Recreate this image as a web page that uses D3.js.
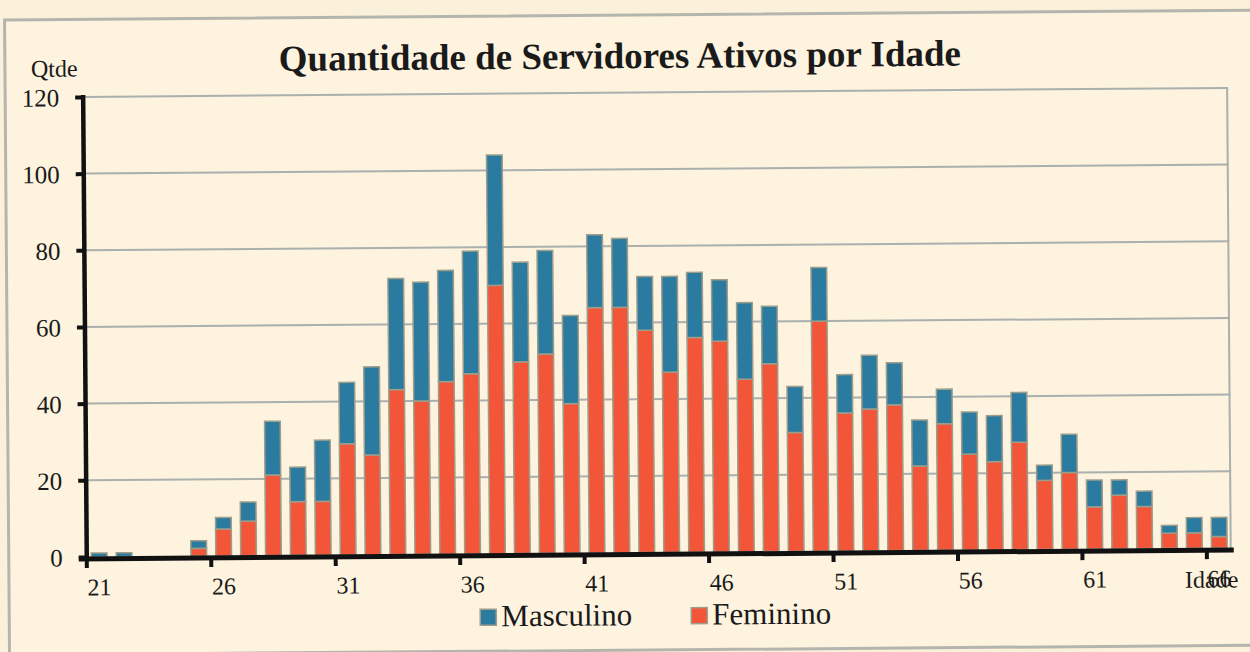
<!DOCTYPE html>
<html>
<head>
<meta charset="utf-8">
<script src="https://cdn.jsdelivr.net/npm/d3@7"></script>
<style>
  html, body { margin: 0; padding: 0; background: #fbf0da; }
  svg { display: block; }
  text { font-family: "Liberation Serif", "Times New Roman", serif; fill: #1a1a1a; }
</style>
</head>
<body>
<div id="chart"></div>
<script>
// idades 21..66
var ages = d3.range(21, 67);
var feminino = [0, 0, 0, 0, 2, 7, 9, 21, 14, 14, 29, 26, 43, 40, 45, 47, 70, 50, 52, 39, 64, 64, 58, 47, 56, 55, 45, 49, 31, 60, 36, 37, 38, 22, 33, 25, 23, 28, 18, 20, 11, 14, 11, 4, 4, 3];
var masculino = [1, 1, 0, 0, 2, 3, 5, 14, 9, 16, 16, 23, 29, 31, 29, 32, 34, 26, 27, 23, 19, 18, 14, 25, 17, 16, 20, 15, 12, 14, 10, 14, 11, 12, 9, 11, 12, 13, 4, 10, 7, 4, 4, 2, 4, 5];
var yTicks = [0, 20, 40, 60, 80, 100, 120];
var xLabels = [21, 26, 31, 36, 41, 46, 51, 56, 61, 66];

var width = 1250, height = 652;
var plotLeft = 85, plotRight = 1230, plotTop = 92.5, plotBottom = 552.5;
var colors = { feminino: "#f35539", masculino: "#2a7b9f" };

var svg = d3.select("#chart").append("svg")
    .attr("width", width)
    .attr("height", height);

svg.append("rect").attr("width", width).attr("height", height).attr("fill", "#fbf0da");

// scanned page is a bit tilted
var g = svg.append("g").attr("transform", "rotate(-0.45, 650, 330)");

// outer frame
g.append("rect")
    .attr("x", 7).attr("y", 15)
    .attr("width", 1270).attr("height", 635)
    .attr("fill", "#fdf3de")
    .attr("stroke", "#b4b5ad")
    .attr("stroke-width", 3);

var x = d3.scaleBand()
    .domain(ages)
    .range([plotLeft, plotRight])
    .paddingInner(0.37)
    .paddingOuter(0.185);

var y = d3.scaleLinear()
    .domain([0, 120])
    .range([plotBottom, plotTop]);

// grid
g.append("g").selectAll("line")
    .data(yTicks.slice(1))
    .join("line")
    .attr("x1", plotLeft).attr("x2", plotRight)
    .attr("y1", d => y(d)).attr("y2", d => y(d))
    .attr("stroke", "#a9b0ae")
    .attr("stroke-width", 2);

g.append("line")
    .attr("x1", plotRight - 1).attr("x2", plotRight - 1)
    .attr("y1", plotTop).attr("y2", plotBottom)
    .attr("stroke", "#a9b0ae")
    .attr("stroke-width", 2);

// stacked bars
var table = ages.map(function(a, i) {
    return { age: a, feminino: feminino[i], masculino: masculino[i] };
});
var series = d3.stack().keys(["feminino", "masculino"])(table);

g.append("g").selectAll("g")
    .data(series)
    .join("g")
    .attr("fill", d => colors[d.key])
    .selectAll("rect")
    .data(d => d.filter(s => s[1] > s[0]))
    .join("rect")
    .attr("x", d => x(d.data.age))
    .attr("width", x.bandwidth())
    .attr("y", d => y(d[1]))
    .attr("height", d => y(d[0]) - y(d[1]))
    .attr("stroke", "#9d9d8c")
    .attr("stroke-width", 1.5);

// y axis
var yAxis = g.append("g")
    .attr("transform", "translate(" + plotLeft + ",0)")
    .call(d3.axisLeft(y).tickValues(yTicks).tickSize(8).tickPadding(16));
yAxis.select(".domain").remove();
yAxis.selectAll(".tick line").attr("stroke", "#111").attr("stroke-width", 4);
yAxis.selectAll(".tick text")
    .attr("font-family", "Liberation Serif, serif")
    .attr("font-size", 25)
    .attr("fill", "#1a1a1a")
    .attr("dy", "0.35em");
g.append("line")
    .attr("x1", plotLeft).attr("x2", plotLeft)
    .attr("y1", plotTop - 2).attr("y2", plotBottom + 2)
    .attr("stroke", "#111").attr("stroke-width", 4.5);

// x axis
var half = (x.step() - x.bandwidth()) / 2;
g.append("line")
    .attr("x1", plotLeft - 8).attr("x2", plotRight + 2)
    .attr("y1", plotBottom + 2).attr("y2", plotBottom + 2)
    .attr("stroke", "#111").attr("stroke-width", 5);
g.append("g").selectAll("line")
    .data(xLabels)
    .join("line")
    .attr("x1", d => x(d) - half).attr("x2", d => x(d) - half)
    .attr("y1", plotBottom + 2).attr("y2", plotBottom + 11)
    .attr("stroke", "#111").attr("stroke-width", 4);
g.append("g").selectAll("text")
    .data(xLabels)
    .join("text")
    .attr("x", d => x(d) + x.bandwidth() / 2)
    .attr("y", 591)
    .attr("text-anchor", "middle")
    .attr("font-size", 24)
    .text(d => d);

// titles
g.append("text")
    .attr("x", 622).attr("y", 68)
    .attr("text-anchor", "middle")
    .attr("font-size", 37)
    .attr("font-weight", "bold")
    .text("Quantidade de Servidores Ativos por Idade");
g.append("text")
    .attr("x", 33).attr("y", 72)
    .attr("font-size", 24)
    .text("Qtde");
g.append("text")
    .attr("x", 1183).attr("y", 592)
    .attr("font-size", 24)
    .text("Idade");

// legend
var legend = [
    { key: "masculino", label: "Masculino", x: 478 },
    { key: "feminino", label: "Feminino", x: 689 }
];
var lg = g.append("g").selectAll("g")
    .data(legend)
    .join("g")
    .attr("transform", d => "translate(" + d.x + ",0)");
lg.append("rect")
    .attr("x", 0).attr("y", 608)
    .attr("width", 16).attr("height", 16)
    .attr("fill", d => colors[d.key])
    .attr("stroke", "#9d9d8c")
    .attr("stroke-width", 1.5);
lg.append("text")
    .attr("x", 21).attr("y", 625)
    .attr("font-size", 31)
    .text(d => d.label);
</script>
</body>
</html>
